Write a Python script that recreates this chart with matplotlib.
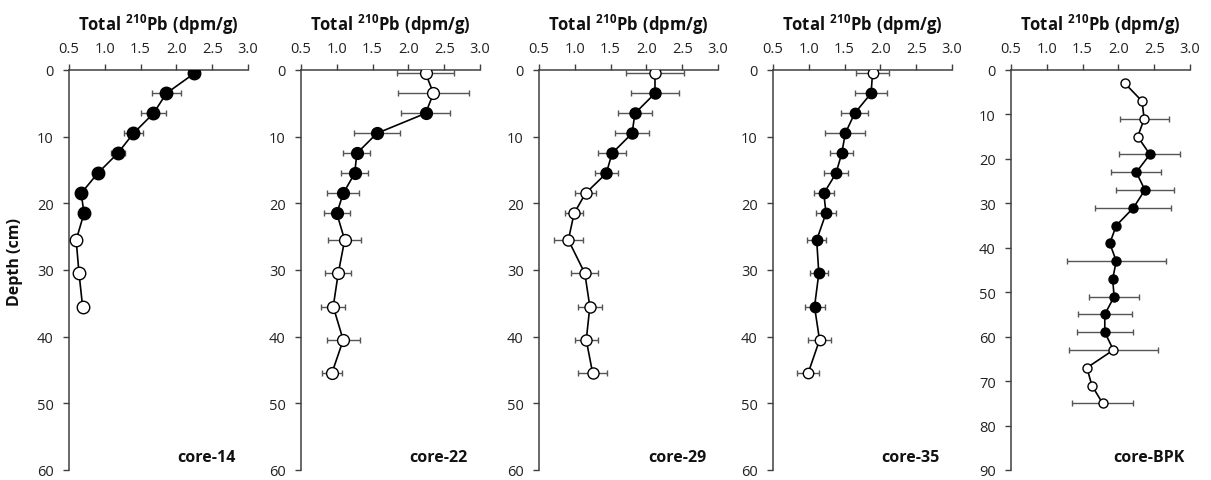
import matplotlib
matplotlib.use('Agg')
import matplotlib.pyplot as plt
import numpy as np

plt.rcParams['font.family'] = ['Open Sans', 'DejaVu Sans']
plt.rcParams['mathtext.fontset'] = 'custom'
plt.rcParams['mathtext.rm'] = 'Open Sans'
plt.rcParams['mathtext.bf'] = 'Open Sans:bold'

# core-14
depth_14 = [0.5, 3.5, 6.5, 9.5, 12.5, 15.5, 18.5, 21.5, 25.5, 30.5, 35.5]
pb_14 = [2.25, 1.86, 1.68, 1.40, 1.18, 0.90, 0.67, 0.71, 0.60, 0.64, 0.69]
err_14 = [0, 0.20, 0.18, 0.13, 0.10, 0, 0, 0, 0, 0, 0]
fill_14 = [1, 1, 1, 1, 1, 1, 1, 1, 0, 0, 0]

# core-22
depth_22 = [0.5, 3.5, 6.5, 9.5, 12.5, 15.5, 18.5, 21.5, 25.5, 30.5, 35.5, 40.5, 45.5]
pb_22 = [2.24, 2.35, 2.24, 1.56, 1.28, 1.25, 1.09, 1.00, 1.11, 1.02, 0.95, 1.09, 0.93]
err_22 = [0.40, 0.49, 0.34, 0.32, 0.19, 0.19, 0.22, 0.18, 0.23, 0.18, 0.17, 0.23, 0.14]
fill_22 = [0, 0, 1, 1, 1, 1, 1, 1, 0, 0, 0, 0, 0]

# core-29
depth_29 = [0.5, 3.5, 6.5, 9.5, 12.5, 15.5, 18.5, 21.5, 25.5, 30.5, 35.5, 40.5, 45.5]
pb_29 = [2.12, 2.12, 1.84, 1.80, 1.52, 1.44, 1.15, 0.99, 0.91, 1.14, 1.21, 1.16, 1.25]
err_29 = [0.40, 0.33, 0.24, 0.24, 0.20, 0.16, 0.15, 0.13, 0.20, 0.19, 0.17, 0.16, 0.20]
fill_29 = [0, 1, 1, 1, 1, 1, 0, 0, 0, 0, 0, 0, 0]

# core-35
depth_35 = [0.5, 3.5, 6.5, 9.5, 12.5, 15.5, 18.5, 21.5, 25.5, 30.5, 35.5, 40.5, 45.5]
pb_35 = [1.89, 1.87, 1.64, 1.51, 1.46, 1.38, 1.21, 1.24, 1.11, 1.14, 1.08, 1.15, 0.99]
err_35 = [0.23, 0.22, 0.19, 0.28, 0.16, 0.17, 0.14, 0.14, 0.13, 0.13, 0.14, 0.16, 0.155]
fill_35 = [0, 1, 1, 1, 1, 1, 1, 1, 1, 1, 1, 0, 0]

# core-BPK
depth_bpk = [3, 7, 11, 15, 19, 23, 27, 31, 35, 39, 43, 47, 51, 55, 59, 63, 67, 71, 75]
pb_bpk = [2.09, 2.33, 2.36, 2.27, 2.44, 2.25, 2.37, 2.21, 1.97, 1.88, 1.97, 1.92,
          1.94, 1.81, 1.81, 1.93, 1.56, 1.63, 1.78]
err_bpk = [0, 0, 0.34, 0, 0.425, 0.35, 0.41, 0.53, 0, 0, 0.69, 0, 0.35, 0.38, 0.39,
           0.62, 0, 0, 0.43]
fill_bpk = [0, 0, 0, 0, 1, 1, 1, 1, 1, 1, 1, 1, 1, 1, 1, 0, 0, 0, 0]

cores = [
    ('core-14', depth_14, pb_14, err_14, fill_14, 60, 9),
    ('core-22', depth_22, pb_22, err_22, fill_22, 60, 8.5),
    ('core-29', depth_29, pb_29, err_29, fill_29, 60, 8),
    ('core-35', depth_35, pb_35, err_35, fill_35, 60, 7.5),
    ('core-BPK', depth_bpk, pb_bpk, err_bpk, fill_bpk, 90, 6.5),
]

W, H = 1211, 481
lefts = [69, 301, 539, 773, 1011]
fig = plt.figure(figsize=(W / 100, H / 100), dpi=100)

ax_top, ax_bot = 71, 471
for (name, d, v, e, f, ymax, ms), left in zip(cores, lefts):
    ax = fig.add_axes([left / W, 1 - ax_bot / H, 179 / W, (ax_bot - ax_top) / H])
    d = np.array(d); v = np.array(v); e = np.array(e); f = np.array(f, bool)

    ax.plot(v, d, color='black', lw=1.2, zorder=2)
    m = e > 0
    ax.errorbar(v[m], d[m], xerr=e[m], fmt='none', ecolor='#555555',
                elinewidth=1, capsize=2, capthick=1, zorder=1)
    ax.plot(v[f], d[f], 'o', ms=ms, mfc='black', mec='black', mew=1, zorder=3)
    ax.plot(v[~f], d[~f], 'o', ms=ms, mfc='white', mec='black', mew=1, zorder=3)

    ax.set_xlim(0.5, 3.0)
    ax.set_ylim(ymax, 0)
    ax.set_xticks(np.arange(0.5, 3.01, 0.5))
    ax.set_xticklabels(['%.1f' % t for t in np.arange(0.5, 3.01, 0.5)])
    ax.set_yticks(np.arange(0, ymax + 1, 10))
    ax.xaxis.tick_top()
    ax.tick_params(axis='x', direction='out', length=4, width=1, pad=6,
                   labelsize=10.5, color='#404040', labelcolor='#222222')
    ax.tick_params(axis='y', direction='out', length=4, width=1, pad=7,
                   labelsize=10.5, color='#404040', labelcolor='#222222')
    for s in ['right', 'bottom']:
        ax.spines[s].set_visible(False)
    for s in ['top', 'left']:
        ax.spines[s].set_color('#404040')
        ax.spines[s].set_linewidth(1.1)
    ax.set_facecolor('none')

    ax.set_title(r'$\mathbf{Total\ ^{210}Pb\ (dpm/g)}$', fontsize=12,
                 pad=29, color='#111111')
    ax.text(0.77, 0.033, name, transform=ax.transAxes, ha='center', va='center',
            fontsize=11.5, fontweight='bold', color='#111111')

fig.text(15 / W, 1 - 262 / H, 'Depth (cm)', rotation=90, ha='center', va='center',
         fontsize=11.5, fontweight='bold', color='#111111')

fig.savefig('out.png', dpi=100)
